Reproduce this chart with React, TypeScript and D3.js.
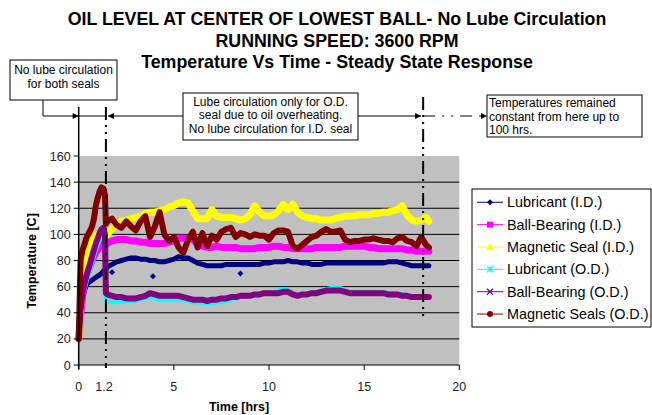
import React from "react";
import * as d3 from "d3";

// ---------- DATA ----------
const TIME = [
  0, 0.05, 0.1, 0.2, 0.3, 0.4, 0.5, 0.6, 0.7, 0.8, 0.9, 1.0, 1.1, 1.2, 1.3, 1.38, 1.43,
  1.5, 1.75, 2.0, 2.25, 2.5, 2.75, 3.0, 3.25, 3.5, 3.75,
  4.0, 4.25, 4.5, 4.75, 5.0, 5.25, 5.5, 5.75, 6.0, 6.25,
  6.5, 6.75, 7.0, 7.25, 7.5, 7.75, 8.0, 8.25, 8.5, 8.75,
  9.0, 9.25, 9.5, 9.75, 10.0, 10.25, 10.5, 10.75, 11.0, 11.25,
  11.5, 11.75, 12.0, 12.25, 12.5, 12.75, 13.0, 13.25, 13.5, 13.75,
  14.0, 14.25, 14.5, 14.75, 15.0, 15.25, 15.5, 15.75, 16.0, 16.25,
  16.5, 16.75, 17.0, 17.25, 17.5, 17.75, 18.0, 18.25, 18.4,
];

const LUBRICANT_ID = [
  20, 28, 38, 50, 57, 61, 63, 64, 65, 66, 67, 68, 69, 70, 72, 73, 73,
  75, 77, 79, 80, 81, 82, 82, 81, 81, 80,
  80, 79, 79, 80, 81, 83, 82, 82, 80, 78,
  77, 76, 76, 76, 76, 77, 77, 77, 77, 77,
  77, 77, 77, 78, 78, 79, 79, 79, 80, 79,
  79, 78, 78, 77, 77, 77, 78, 78, 78, 78,
  78, 78, 78, 78, 78, 78, 78, 78, 78, 79,
  79, 79, 78, 77, 76, 76, 76, 76, 76,
];

const BALL_BEARING_ID = [
  20, 28, 38, 52, 62, 68, 72, 76, 80, 83, 86, 88, 90, 92, 93, 93, 92,
  93, 95, 96, 96, 96, 95, 95, 94, 94, 93,
  93, 93, 93, 94, 95, 97, 97, 97, 96, 93,
  91, 90, 90, 91, 90, 90, 90, 90, 89, 89,
  89, 89, 90, 90, 90, 91, 91, 90, 90, 89,
  89, 89, 89, 89, 90, 90, 90, 90, 90, 90,
  91, 91, 91, 91, 91, 90, 90, 89, 89, 89,
  89, 89, 89, 88, 88, 87, 87, 87, 87,
];

const MAGNETIC_SEAL_ID = [
  20, 30, 45, 65, 80, 88, 92, 94, 96, 98, 99, 100, 100, 101, 100, 99, 99,
  100, 104, 108, 110, 111, 112, 113, 114, 116, 117,
  117, 118, 119, 121, 122, 124, 125, 124, 118, 112,
  112, 112, 119, 114, 113, 113, 113, 112, 111, 112,
  115, 122, 117, 114, 114, 115, 118, 123, 119, 123,
  117, 114, 113, 112, 112, 111, 111, 111, 112, 113,
  114, 114, 114, 115, 115, 115, 116, 116, 117, 117,
  118, 119, 122, 115, 111, 110, 111, 113, 110,
];

const LUBRICANT_OD = [
  20, 28, 40, 52, 58, 63, 68, 73, 78, 83, 88, 92, 96, 98, 100, 96, 50,
  48, 48, 48, 48, 49, 49, 49, 50, 51, 52,
  51, 50, 50, 50, 50, 50, 50, 49, 48, 48,
  47, 47, 47, 48, 48, 49, 50, 51, 52, 52,
  53, 53, 54, 55, 55, 56, 57, 58, 57, 55,
  54, 54, 55, 56, 56, 57, 58, 59, 59, 59,
  57, 56, 56, 56, 56, 56, 56, 56, 56, 55,
  55, 55, 54, 54, 53, 53, 53, 53, 53,
];

const BALL_BEARING_OD = [
  20, 30, 42, 55, 62, 68, 73, 78, 83, 88, 93, 97, 101, 104, 105, 100, 55,
  54, 53, 52, 52, 51, 51, 51, 52, 53, 55,
  54, 53, 53, 53, 53, 53, 52, 51, 50, 50,
  50, 49, 50, 50, 51, 51, 52, 52, 53, 53,
  53, 54, 54, 55, 55, 55, 55, 56, 56, 54,
  53, 54, 54, 55, 55, 56, 57, 57, 57, 57,
  56, 55, 55, 55, 55, 55, 55, 55, 55, 54,
  54, 54, 53, 53, 52, 52, 52, 52, 52,
];

const MAGNETIC_SEALS_OD = [
  20, 50, 80, 88, 92, 97, 100, 103, 106, 112, 122, 128, 133, 136, 135, 130, 108,
  110, 112, 107, 105, 110, 106, 103, 110, 114, 98,
  106, 117, 100, 95, 98, 90, 86, 96, 102, 90,
  101, 91, 99, 96, 102, 104, 105, 98, 101, 100,
  98, 100, 99, 99, 96, 101, 103, 103, 102, 91,
  89, 92, 95, 98, 99, 102, 104, 102, 102, 103,
  96, 94, 95, 95, 96, 96, 97, 96, 95, 95,
  94, 97, 98, 95, 94, 91, 98, 92, 90,
];

// scattered stray readings of the I.D. lubricant sensor
const LUBRICANT_ID_STRAY_T = [1.75, 3.9, 8.5];
const LUBRICANT_ID_STRAY_V = [71, 68, 70];

const SERIES_NAMES = [
  "Lubricant (I.D.)",
  "Ball-Bearing (I.D.)",
  "Magnetic Seal (I.D.)",
  "Lubricant (O.D.)",
  "Ball-Bearing (O.D.)",
  "Magnetic Seals (O.D.)",
];
const SERIES_VALUES = [
  LUBRICANT_ID,
  BALL_BEARING_ID,
  MAGNETIC_SEAL_ID,
  LUBRICANT_OD,
  BALL_BEARING_OD,
  MAGNETIC_SEALS_OD,
];
const SERIES_COLORS = ["#000080", "#FF00FF", "#FFFF00", "#00FFFF", "#800080", "#800000"];
const SERIES_WIDTHS = [5, 7, 7, 4, 6, 6];
const SERIES_MARKERS = ["diamond", "square", "triangle", "asterisk", "cross", "circle"];

const Y_TICKS = [0, 20, 40, 60, 80, 100, 120, 140, 160];
const X_TICKS = [0, 5, 10, 15, 20];
const PHASE_LINES = [1.43, 18.1];
const PHASE_LABEL = "1.2";

const TITLE_LINES = [
  "OIL LEVEL AT CENTER OF LOWEST BALL- No Lube Circulation",
  "RUNNING SPEED: 3600 RPM",
  "Temperature Vs Time - Steady State Response",
];
const NOTE_LEFT = ["No lube circulation", "for both seals"];
const NOTE_MIDDLE = [
  "Lube circulation only for O.D.",
  "seal due to oil overheating.",
  "No lube circulation for I.D. seal",
];
const NOTE_RIGHT = ["Temperatures remained", "constant from here up to", "100 hrs."];

// ---------- CHART ----------
const W = 652;
const H = 415;
const FONT = "'Liberation Sans', Arial, sans-serif";

function Marker({ kind, x, y, color }: { kind: string; x: number; y: number; color: string }) {
  const s = 3;
  switch (kind) {
    case "diamond":
      return <path d={`M${x},${y - s}L${x + s},${y}L${x},${y + s}L${x - s},${y}Z`} fill={color} />;
    case "square":
      return <rect x={x - s} y={y - s} width={2 * s} height={2 * s} fill={color} />;
    case "triangle":
      return <path d={`M${x},${y - s - 0.5}L${x + s + 0.5},${y + s}L${x - s - 0.5},${y + s}Z`} fill={color} />;
    case "asterisk":
      return (
        <g stroke={color} strokeWidth={1.2}>
          <path d={`M${x - s},${y - s}L${x + s},${y + s}M${x - s},${y + s}L${x + s},${y - s}M${x},${y - s}L${x},${y + s}`} />
        </g>
      );
    case "cross":
      return (
        <g stroke={color} strokeWidth={1.3}>
          <path d={`M${x - s},${y - s}L${x + s},${y + s}M${x - s},${y + s}L${x + s},${y - s}`} />
        </g>
      );
    default:
      return <circle cx={x} cy={y} r={s} fill={color} />;
  }
}

export default function App() {
  const x = d3.scaleLinear().domain([0, 20]).range([78.7, 459.3]);
  const y = d3.scaleLinear().domain([0, 160]).range([365, 156]);

  const line = d3
    .line<number>()
    .x((_, i) => x(TIME[i]))
    .y((d) => y(d));

  const plotL = x(0);
  const plotR = x(20);
  const plotT = y(160);
  const plotB = y(0);

  const arrowY = 116;
  const leftNote = { x: 10, y: 60, w: 107, h: 40 };
  const midNote = { x: 183, y: 93, w: 175, h: 47 };
  const rightNote = { x: 487, y: 95, w: 155, h: 42 };

  const legend = { x: 472, y: 189, w: 179, h: 138 };

  return (
    <svg
      width={W}
      height={H}
      viewBox={`0 0 ${W} ${H}`}
      style={{ position: "absolute", left: 0, top: 0, background: "#fff" }}
      fontFamily={FONT}
    >
      <defs>
        <marker id="ah" viewBox="0 0 10 10" refX="10" refY="5" markerWidth="11" markerHeight="6" orient="auto-start-reverse" markerUnits="userSpaceOnUse">
          <path d="M0,0L10,5L0,10Z" fill="#000" />
        </marker>
      </defs>

      {/* Title */}
      {TITLE_LINES.map((t, i) => (
        <text key={t} x={337} y={25 + i * 21.5} textAnchor="middle" fontWeight="bold" fontSize={17.8} fill="#000">
          {t}
        </text>
      ))}

      {/* Plot background */}
      <rect x={plotL} y={plotT} width={plotR - plotL} height={plotB - plotT} fill="#C0C0C0" />
      {Y_TICKS.filter((v) => v > 0 && v < 160).map((v) => (
        <line key={v} x1={plotL} x2={plotR} y1={y(v)} y2={y(v)} stroke="#000" strokeWidth={1} />
      ))}

      {/* Series */}
      {SERIES_VALUES.map((vals, i) => (
        <path
          key={SERIES_NAMES[i]}
          d={line(vals) || ""}
          fill="none"
          stroke={SERIES_COLORS[i]}
          strokeWidth={SERIES_WIDTHS[i]}
          strokeLinejoin="round"
          strokeLinecap="round"
        />
      ))}
      {LUBRICANT_ID_STRAY_T.map((t, i) => (
        <Marker key={t} kind="diamond" x={x(t)} y={y(LUBRICANT_ID_STRAY_V[i])} color={SERIES_COLORS[0]} />
      ))}

      {/* Axes */}
      <line x1={plotL} x2={plotL} y1={107} y2={plotB + 4} stroke="#000" strokeWidth={1.5} />
      <line x1={plotL} x2={plotR} y1={plotB} y2={plotB} stroke="#000" strokeWidth={1} />
      {Y_TICKS.map((v) => (
        <g key={v}>
          <line x1={plotL - 5} x2={plotL} y1={y(v)} y2={y(v)} stroke="#000" />
          <text x={plotL - 8} y={y(v) + 4.5} textAnchor="end" fontSize={12.5} fill="#222">
            {v}
          </text>
        </g>
      ))}
      {X_TICKS.map((v) => (
        <g key={v}>
          <line x1={x(v)} x2={x(v)} y1={plotB} y2={plotB + 5} stroke="#000" />
          <text x={x(v)} y={391} textAnchor="middle" fontSize={12.5} fill="#222">
            {v}
          </text>
        </g>
      ))}
      <text x={x(PHASE_LINES[0]) - 2} y={391} textAnchor="middle" fontSize={12.5} fill="#222">
        {PHASE_LABEL}
      </text>
      <text x={239} y={411} textAnchor="middle" fontWeight="bold" fontSize={12.5}>
        Time [hrs]
      </text>
      <text transform={`translate(36,261) rotate(-90)`} textAnchor="middle" fontWeight="bold" fontSize={12.5}>
        Temperature [C]
      </text>

      {/* Phase lines */}
      <line x1={x(PHASE_LINES[0])} x2={x(PHASE_LINES[0])} y1={107} y2={plotB + 3} stroke="#000" strokeWidth={2} strokeDasharray="13,5,2,5,2,5" />
      <line x1={x(PHASE_LINES[1])} x2={x(PHASE_LINES[1])} y1={97} y2={320} stroke="#000" strokeWidth={2} strokeDasharray="13,5,2,5,2,5" />

      {/* Annotation boxes */}
      <rect x={leftNote.x} y={leftNote.y} width={leftNote.w} height={leftNote.h} fill="#fff" stroke="#000" />
      {NOTE_LEFT.map((t, i) => (
        <text key={t} x={leftNote.x + leftNote.w / 2} y={74 + i * 14} textAnchor="middle" fontSize={12}>
          {t}
        </text>
      ))}
      <rect x={midNote.x} y={midNote.y} width={midNote.w} height={midNote.h} fill="#fff" stroke="#000" />
      {NOTE_MIDDLE.map((t, i) => (
        <text key={t} x={midNote.x + midNote.w / 2} y={105.5 + i * 13.5} textAnchor="middle" fontSize={12}>
          {t}
        </text>
      ))}
      <rect x={rightNote.x} y={rightNote.y} width={rightNote.w} height={rightNote.h} fill="#fff" stroke="#000" />
      {NOTE_RIGHT.map((t, i) => (
        <text key={t} x={rightNote.x + 2} y={107 + i * 13.5} fontSize={12}>
          {t}
        </text>
      ))}

      {/* Connectors */}
      <path d={`M43,${leftNote.y + leftNote.h}V${arrowY}H${plotL}`} fill="none" stroke="#000" markerEnd="url(#ah)" />
      <line x1={plotL} x2={x(PHASE_LINES[0])} y1={arrowY} y2={arrowY} stroke="#000" />
      <line x1={midNote.x} x2={x(PHASE_LINES[0]) + 2} y1={arrowY} y2={arrowY} stroke="#000" markerEnd="url(#ah)" />
      <line x1={midNote.x + midNote.w} x2={x(PHASE_LINES[1]) - 2} y1={arrowY} y2={arrowY} stroke="#000" markerEnd="url(#ah)" />
      <line x1={x(PHASE_LINES[1])} x2={rightNote.x} y1={arrowY} y2={arrowY} stroke="#000" strokeDasharray="12,7,2,7,2,7" markerEnd="url(#ah)" />

      {/* Legend */}
      <rect x={legend.x} y={legend.y} width={legend.w} height={legend.h} fill="#fff" stroke="#000" />
      {SERIES_NAMES.map((n, i) => {
        const ly = 202.3 + i * 22.35;
        return (
          <g key={n}>
            <line x1={477} x2={503} y1={ly} y2={ly} stroke={SERIES_COLORS[i]} strokeWidth={1} />
            <Marker kind={SERIES_MARKERS[i]} x={490} y={ly} color={SERIES_COLORS[i]} />
            <text x={507} y={ly + 5} fontSize={14.4} fill="#000">
              {n}
            </text>
          </g>
        );
      })}
    </svg>
  );
}
